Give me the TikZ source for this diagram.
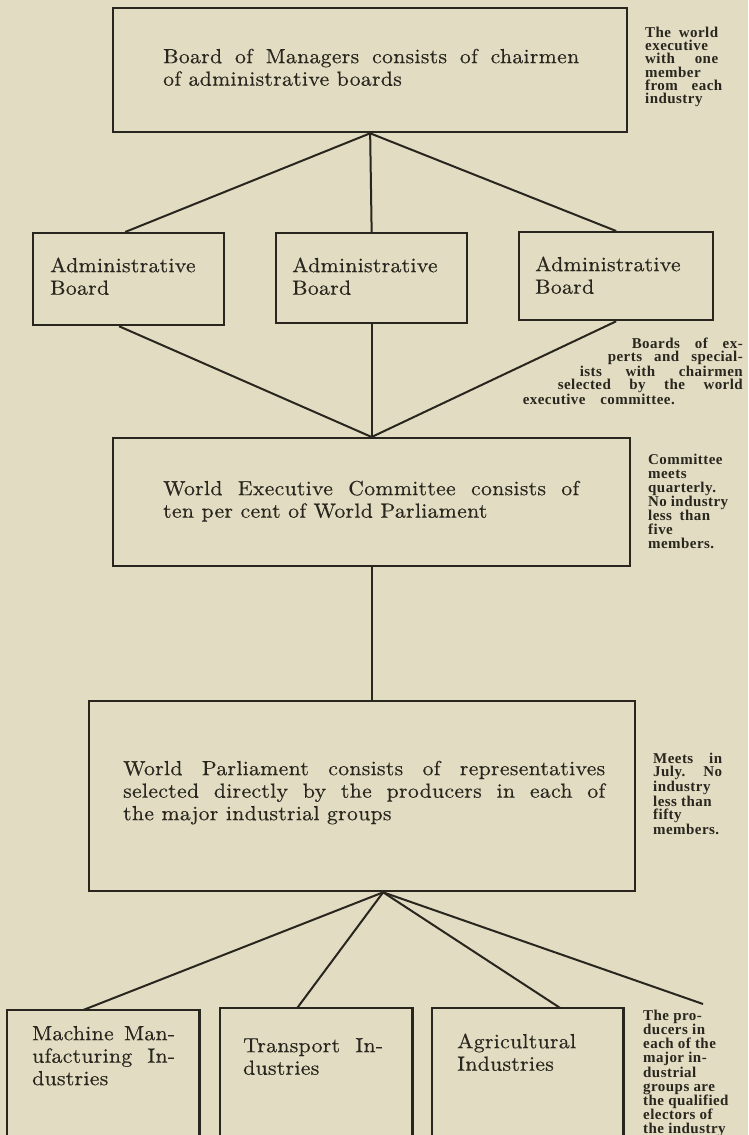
\documentclass[tikz,border=0pt]{standalone}
\usepackage{fontspec}
\usetikzlibrary{calc}
\newfontfamily\bodyfont{lmroman10-regular.otf}[FakeStretch=1.06,LetterSpace=1.5,FakeBold=0.4]
\newfontfamily\notefont{Liberation Serif}[LetterSpace=3]
\definecolor{paper}{RGB}{226,221,194}
\definecolor{ink}{RGB}{40,38,30}
\newcommand\jl[2]{\makebox[#1pt][s]{#2}}
\tikzset{
  box/.style={draw=ink, line width=2.3pt, inner sep=0pt, anchor=north west},
  openbox/.style={inner sep=0pt, anchor=north west},
  sideline/.style={draw=ink, line width=2.3pt},
  link/.style={draw=ink, line width=2pt},
  body/.style={anchor=north west, inner sep=0pt, align=left, text=ink,
    font=\bodyfont\fontsize{20.5}{22.5}\selectfont},
  note/.style={anchor=north west, inner sep=0pt, align=left, text=ink,
    font=\notefont\bfseries\fontsize{15}{13.3}\selectfont},
}
\begin{document}
\begin{tikzpicture}[x=1pt,y=-1pt]
\path[use as bounding box, fill=paper] (0,0) rectangle (748,1135);
\clip (0,0) rectangle (748,1135);

% boxes
\node[box, minimum width=514pt, minimum height=124pt] (mgr) at (112,7) {};
\node[box, minimum width=191pt, minimum height=92pt] (adm1) at (32,232) {};
\node[box, minimum width=191pt, minimum height=90pt] (adm2) at (275,232) {};
\node[box, minimum width=194pt, minimum height=88pt] (adm3) at (518,231) {};
\node[box, minimum width=517pt, minimum height=128pt] (comm) at (112,437) {};
\node[box, minimum width=546pt, minimum height=190pt] (parl) at (88,700) {};
\node[openbox, minimum width=192pt, minimum height=140pt] (mach) at (7,1010) {};
\node[openbox, minimum width=192pt, minimum height=140pt] (trans) at (220,1008) {};
\node[openbox, minimum width=191pt, minimum height=140pt] (agri) at (432,1008) {};
\draw[sideline] (mach.south west) -- (mach.north west) -- (mach.north east) -- (mach.south east);
\draw[sideline] (trans.south west) -- (trans.north west) -- (trans.north east) -- (trans.south east);
\draw[sideline] (agri.south west) -- (agri.north west) -- (agri.north east) -- (agri.south east);

% texts in boxes
\node[body] (mgrtxt) at (163,48) {\rule{0pt}{15pt}\jl{416}{Board of Managers consists of chairmen}\\of administrative boards};
\node[body] (adm1txt) at (50,257) {\rule{0pt}{15pt}Administrative\\Board};
\node[body] (adm2txt) at (292,257) {\rule{0pt}{15pt}Administrative\\Board};
\node[body] (adm3txt) at (535,256) {\rule{0pt}{15pt}Administrative\\Board};
\node[body] (commtxt) at (163,480) {\rule{0pt}{15pt}\jl{416}{World Executive Committee consists of}\\ten per cent of World Parliament};
\node[body] (parltxt) at (123,760) {\rule{0pt}{15pt}\jl{482}{World Parliament consists of representatives}\\\jl{482}{selected directly by the producers in each of}\\the major industrial groups};
\node[body] (machtxt) at (32,1025) {\rule{0pt}{15pt}\jl{143}{Machine Man-}\\\jl{143}{ufacturing In-}\\dustries};
\node[body] (transtxt) at (243,1037) {\rule{0pt}{15pt}\jl{140}{Transport In-}\\dustries};
\node[body] (agritxt) at (457,1033) {\rule{0pt}{15pt}Agricultural\\Industries};

% side notes
\node[note] (n1) at (645,26) {\rule{0pt}{11pt}\jl{73}{The world}\\executive\\\jl{73}{with one}\\member\\\jl{77}{from each}\\industry};
\node[note, align=right, anchor=north east] (n2) at (743,337) {\rule{0pt}{11pt}\jl{111}{Boards of ex-}\\\jl{135}{perts and special-}\\\jl{163}{ists with chairmen}\\\jl{185}{selected by the world}\\\makebox[220pt][l]{\jl{152}{executive committee.}}};
\node[note, font=\notefont\bfseries\fontsize{15}{14}\selectfont] (n3) at (648,453) {\rule{0pt}{11pt}Committee\\meets\\quarterly.\\\jl{80}{No industry}\\\jl{62}{less than}\\five\\members.};
\node[note, font=\notefont\bfseries\fontsize{15}{13.6}\selectfont] (n4) at (653,752) {\rule{0pt}{11pt}\jl{69}{Meets in}\\\jl{69}{July. No}\\industry\\less than\\fifty\\members.};
\node[note, font=\notefont\bfseries\fontsize{15}{14.2}\selectfont] (n5) at (643,1009) {\rule{0pt}{11pt}The pro-\\ducers in\\each of the\\major in-\\dustrial\\groups are\\the qualified\\electors of\\the industry};

% connectors
\draw[link] (mgr.south) -- ([xshift=-3.5pt]adm1.north);
\draw[link] (mgr.south) -- (adm2.north);
\draw[link] (mgr.south) -- (adm3.north);
\draw[link] ([xshift=-9.5pt]adm1.south) -- (comm.north);
\draw[link] (adm2.south) -- (comm.north);
\draw[link] (adm3.south) -- (comm.north);
\draw[link] (comm.south) -- (comm.south |- parl.north);
\coordinate (papex) at ([xshift=21pt]parl.south);
\coordinate (tail) at (703,1004);
\draw[link] (papex) -- ([xshift=-20pt]mach.north);
\draw[link] (papex) -- ([xshift=-19pt]trans.north);
\draw[link] (papex) -- ([xshift=32.5pt]agri.north);
\draw[link] (papex) -- (tail);
\end{tikzpicture}
\end{document}
